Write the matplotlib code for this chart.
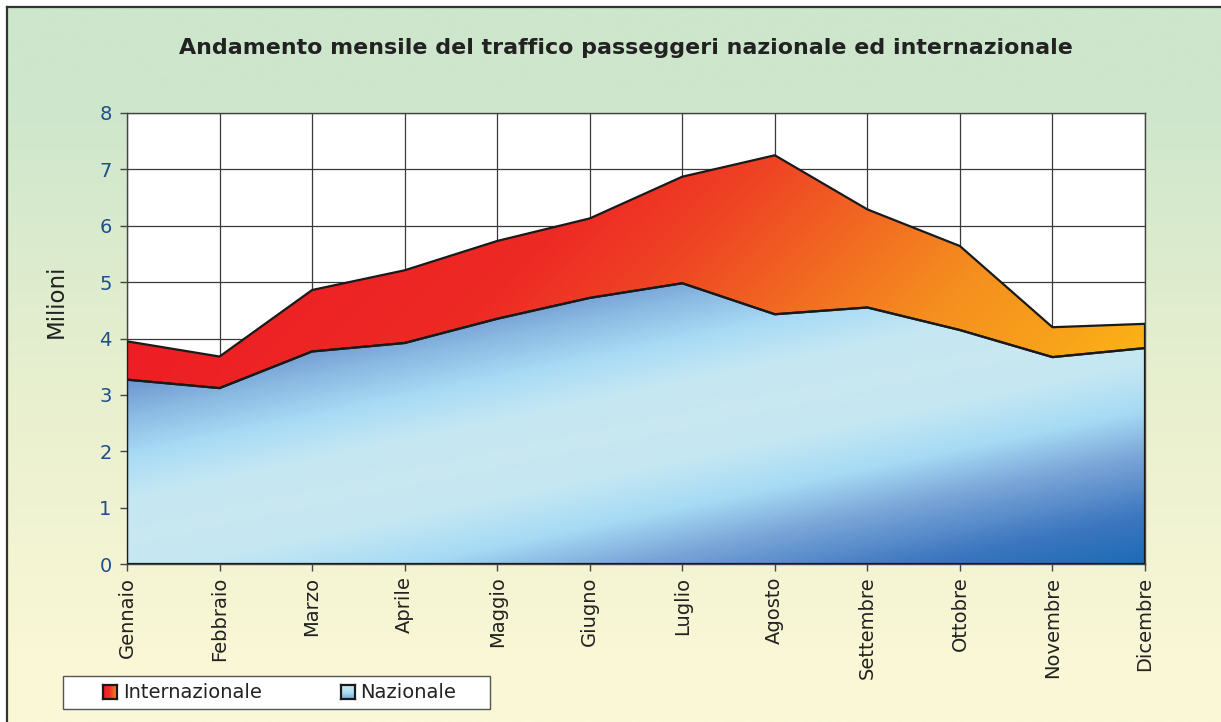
import numpy as np
import matplotlib
matplotlib.use("Agg")
import matplotlib.pyplot as plt
from matplotlib.colors import LinearSegmentedColormap
from matplotlib.patches import Rectangle
from matplotlib.lines import Line2D

# ── Data ──────────────────────────────────────────────────────────────────────

MONTHS = ["Gennaio", "Febbraio", "Marzo", "Aprile", "Maggio", "Giugno",
          "Luglio", "Agosto", "Settembre", "Ottobre", "Novembre", "Dicembre"]

# milioni di passeggeri
NAZIONALE = [3.27, 3.12, 3.77, 3.92, 4.35, 4.72, 4.98, 4.43, 4.55, 4.15, 3.67, 3.83]
TOTALE = [3.95, 3.68, 4.86, 5.21, 5.73, 6.13, 6.87, 7.25, 6.29, 5.64, 4.20, 4.26]

Y_TICKS = list(range(0, 9))
SERIES = ["Internazionale", "Nazionale"]

# ── Figure ────────────────────────────────────────────────────────────────────

W, H = 1221, 722
fig = plt.figure(figsize=(W / 100, H / 100), dpi=100)
fig.patch.set_facecolor("white")

# background: green on top, pale yellow at bottom
bg = fig.add_axes([7 / W, 0, 1 - 7 / W, 1 - 7 / H])
bg.axis("off")
bg_cmap = LinearSegmentedColormap.from_list(
    "bg", [(0.0, "#cde6cc"), (0.12, "#cde6cc"), (0.55, "#e9f0cf"), (0.9, "#f9f7d5"), (1.0, "#faf8d6")])
bg.imshow(np.linspace(0, 1, 256)[:, None], cmap=bg_cmap, aspect="auto",
          extent=[0, 1, 0, 1], origin="upper", interpolation="bilinear")
fig.add_artist(Line2D([7 / W, 7 / W], [0, 1 - 7 / H], color="#333333", lw=1.6))
fig.add_artist(Line2D([7 / W, 1], [1 - 7 / H, 1 - 7 / H], color="#333333", lw=1.6))

ax = fig.add_axes([127 / W, 1 - 564 / H, 1018 / W, 451 / H])
ax.set_facecolor("white")

x = np.arange(len(MONTHS))
naz = np.array(NAZIONALE)
tot = np.array(TOTALE)

# ── gradient fills ────────────────────────────────────────────────────────────

N, M = 600, 300
U, V = np.meshgrid(np.linspace(0, 1018, N), np.linspace(0, 451, M))

# blue: reflected diagonal gradient
d = (V - 26.7 - 0.21 * U) / 1.0218
blue_stops = [(-240, "#1a6ab5"), (-190, "#3b76bf"), (-130, "#7aa5d8"),
              (-85, "#a6dbf5"), (-40, "#c4e7f3"), (0, "#c9e8f0"),
              (40, "#c4e7f3"), (80, "#a8dbf5"), (120, "#8ab9e2"),
              (160, "#6890cb"), (200, "#5580c4")]
lo, hi = blue_stops[0][0], blue_stops[-1][0]
blue_cmap = LinearSegmentedColormap.from_list(
    "blue", [((v - lo) / (hi - lo), c) for v, c in blue_stops])
blue_img = blue_cmap(np.clip((d - lo) / (hi - lo), 0, 1))

# red -> orange: diagonal gradient
t = U - V
red_stops = [(-250, "#ed1c24"), (100, "#ee2a24"), (250, "#ef4524"),
             (400, "#f26a22"), (550, "#f58e1f"), (700, "#f8a11b"), (800, "#fcb216")]
lo2, hi2 = red_stops[0][0], red_stops[-1][0]
red_cmap = LinearSegmentedColormap.from_list(
    "red", [((v - lo2) / (hi2 - lo2), c) for v, c in red_stops])
red_img = red_cmap(np.clip((t - lo2) / (hi2 - lo2), 0, 1))

naz_poly = ax.fill_between(x, 0, naz, facecolor="none", edgecolor="#1a1a1a", lw=1.6, zorder=4)
int_poly = ax.fill_between(x, naz, tot, facecolor="none", edgecolor="#1a1a1a", lw=1.6, zorder=4)

extent = [0, len(MONTHS) - 1, 0, 8]
im1 = ax.imshow(blue_img, extent=extent, origin="lower", aspect="auto",
                interpolation="bilinear", zorder=2)
im1.set_clip_path(naz_poly.get_paths()[0], transform=ax.transData)
im2 = ax.imshow(red_img, extent=extent, origin="lower", aspect="auto",
                interpolation="bilinear", zorder=2)
im2.set_clip_path(int_poly.get_paths()[0], transform=ax.transData)

ax.set_xlim(0, len(MONTHS) - 1)
ax.set_ylim(0, 8)

# ── axes styling ──────────────────────────────────────────────────────────────

ax.set_xticks(x)
ax.set_xticklabels(MONTHS, rotation=90, fontsize=14, color="#222222")
ax.set_yticks(Y_TICKS)
ax.set_yticklabels([str(v) for v in Y_TICKS], fontsize=14, color="#1f4e8c")
ax.tick_params(direction="out", length=5, width=1, color="#444444")
ax.tick_params(axis="y", pad=6)
ax.tick_params(axis="x", pad=4)
ax.grid(True, color="#3a3a3a", lw=0.9)
ax.set_axisbelow(True)
for s in ax.spines.values():
    s.set_color("#444444")
    s.set_linewidth(1.0)

ax.set_ylabel("Milioni", fontsize=16.5, color="#222222")
ax.yaxis.set_label_coords(-0.058, (564 - 301) / 451)

fig.text(0.5123, 1 - 48 / H,
         "Andamento mensile del traffico passeggeri nazionale ed internazionale",
         ha="center", va="center", fontsize=15.9, fontweight="bold", color="#222222")

# ── legend (drawn by hand so that the boxes can carry the gradients) ─────────

fig.add_artist(Rectangle((63 / W, 1 - 709 / H), 427 / W, 33 / H, transform=fig.transFigure,
                         facecolor="white", edgecolor="#555555", lw=1.0, zorder=5))

icon_imgs = [red_cmap(np.linspace(0.05, 0.75, 32))[None, :, :].repeat(32, axis=0),
             blue_cmap(np.linspace(0.5, 0.25, 32))[:, None, :].repeat(32, axis=1)]
for (ix, tx), label, img in zip([(103, 123), (341, 360)], SERIES, icon_imgs):
    iax = fig.add_axes([ix / W, 1 - 699 / H, 14 / W, 14 / H], zorder=6)
    iax.imshow(img, aspect="auto", interpolation="bilinear")
    iax.set_xticks([])
    iax.set_yticks([])
    for s in iax.spines.values():
        s.set_color("#1a1a1a")
        s.set_linewidth(1.6)
    fig.text(tx / W, 1 - 692 / H, label, ha="left", va="center",
             fontsize=14, color="#222222", zorder=7)

plt.savefig("out.png", dpi=100)
